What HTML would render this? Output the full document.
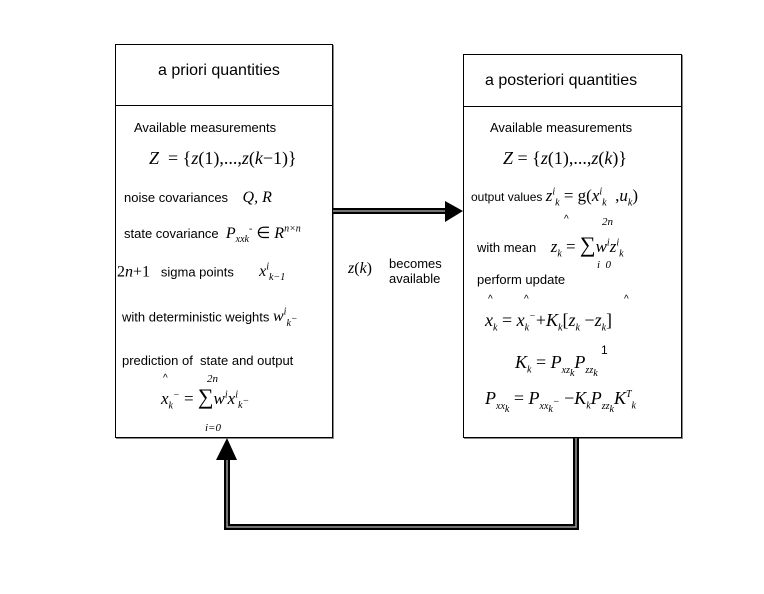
<!DOCTYPE html>
<html><head><meta charset="utf-8"><style>
body{margin:0;background:#fff;width:764px;height:594px;position:relative;overflow:hidden;font-family:"Liberation Sans",sans-serif;color:#000}
.t{position:absolute;white-space:nowrap;font-size:13px}
.m{font-family:"Liberation Serif",serif;font-style:italic;font-size:16px}
.r{font-style:normal}
sub,sup{font-size:10px}
</style></head><body>
<svg width="764" height="594" style="position:absolute;left:0;top:0">
<rect x="115.5" y="44.5" width="217" height="393" fill="none" stroke="#000"/>
<line x1="116" y1="438.5" x2="334" y2="438.5" stroke="#888"/><line x1="333.5" y1="45" x2="333.5" y2="439" stroke="#888"/>
<line x1="115" y1="105.5" x2="332" y2="105.5" stroke="#000"/>
<rect x="463.5" y="54.5" width="218" height="383" fill="none" stroke="#000"/>
<line x1="464" y1="438.5" x2="683" y2="438.5" stroke="#888"/><line x1="682.5" y1="55" x2="682.5" y2="439" stroke="#888"/>
<line x1="463" y1="106.5" x2="682" y2="106.5" stroke="#000"/>
<!-- right arrow -->
<line x1="333" y1="211" x2="446" y2="211" stroke="#000" stroke-width="6"/>
<line x1="333" y1="211" x2="446" y2="211" stroke="#999" stroke-width="1.5"/>
<polygon points="445,201 463,211 445,222" fill="#000"/>
<!-- return -->
<polyline points="576,438 576,527 227,527 227,458" fill="none" stroke="#000" stroke-width="6"/>
<polyline points="576,438 576,527 227,527 227,458" fill="none" stroke="#999" stroke-width="1.5"/>
<polygon points="216,460 227,438 237,460" fill="#000"/>
</svg>
<div class="t" style="left:158px;top:62px;font-size:16px">a priori quantities</div>
<div class="t" style="left:134px;top:120px">Available measurements</div>
<div class="t m" style="left:149px;top:148px;font-size:18px">Z <span class="r">&nbsp;= {</span>z<span class="r">(1),...,</span>z<span class="r">(</span>k<span class="r">−1)}</span></div>
<div class="t" style="left:124px;top:189px">noise covariances &nbsp;&nbsp;&nbsp;<span class="m">Q, R</span></div>
<div class="t" style="left:124px;top:223px">state covariance &nbsp;<span class="m">P<sub>xxk</sub><sup>-</sup> <span class="r">∈</span> R<sup>n×n</sup></span></div>
<div class="t" style="left:117px;top:262px"><span class="m r" style="font-size:16px">2<i>n</i>+1</span> &nbsp;&nbsp;sigma points &nbsp;&nbsp;&nbsp;&nbsp;&nbsp;&nbsp;<span class="m">x<sup>i</sup><sub>k−1</sub></span></div>
<div class="t" style="left:122px;top:307px">with deterministic weights <span class="m">w<sup>i</sup><sub>k<sup>−</sup></sub></span></div>
<div class="t" style="left:122px;top:353px">prediction of &nbsp;state and output</div>
<div class="t m" style="left:161px;top:384px;font-size:17px">x<sub>k</sub><sup>−</sup> <span class="r">=</span> <span class="r" style="font-size:22px">∑</span>w<sup>i</sup>x<sup>i</sup><sub>k<sup>−</sup></sub></div>
<div class="t m" style="left:207px;top:373px;font-size:11px">2n</div>
<div class="t m" style="left:205px;top:422px;font-size:11px">i=0</div>
<div class="t" style="left:163px;top:373px;font-size:10px">^</div>

<div class="t" style="left:485px;top:72px;font-size:16px">a posteriori quantities</div>
<div class="t" style="left:490px;top:120px">Available measurements</div>
<div class="t m" style="left:503px;top:148px;font-size:18px">Z <span class="r">= {</span>z<span class="r">(1),...,</span>z<span class="r">(</span>k<span class="r">)}</span></div>
<div class="t" style="left:471px;top:186px;font-size:12px">output values <span class="m" style="font-size:17px">z<sup>i</sup><sub>k</sub> <span class="r">= g(</span>x<sup>i</sup><sub>k</sub> &nbsp;<span class="r">,</span>u<sub>k</sub><span class="r">)</span></span></div>
<div class="t" style="left:477px;top:232px">with mean &nbsp;&nbsp;&nbsp;<span class="m" style="font-size:17px">z<sub>k</sub> <span class="r">=</span> <span class="r" style="font-size:22px">∑</span>w<sup>i</sup>z<sup>i</sup><sub>k</sub></span></div>
<div class="t m" style="left:602px;top:216px;font-size:11px">2n</div>
<div class="t m" style="left:597px;top:259px;font-size:11px">i &nbsp;0</div>
<div class="t" style="left:564px;top:214px;font-size:10px">^</div>
<div class="t" style="left:477px;top:272px">perform update</div>
<div class="t" style="left:488px;top:294px;font-size:10px">^</div>
<div class="t" style="left:524px;top:294px;font-size:10px">^</div>
<div class="t" style="left:624px;top:294px;font-size:10px">^</div>
<div class="t m" style="left:485px;top:310px;font-size:18px">x<sub>k</sub> <span class="r">=</span> x<sub>k</sub><sup>−</sup><span class="r">+</span>K<sub>k</sub><span class="r">[</span>z<sub>k</sub> <span class="r">−</span>z<sub>k</sub><span class="r">]</span></div>
<div class="t m" style="left:515px;top:352px;font-size:18px">K<sub>k</sub> <span class="r">=</span> P<sub>xz<sub>k</sub></sub>P<sub>zz<sub>k</sub></sub></div>
<div class="t" style="left:601px;top:343px;font-size:12px">1</div>
<div class="t m" style="left:485px;top:388px;font-size:18px">P<sub>xx<sub>k</sub></sub> <span class="r">=</span> P<sub>xx<sub>k</sub><sup>−</sup></sub> <span class="r">−</span>K<sub>k</sub>P<sub>zz<sub>k</sub></sub>K<sup>T</sup><sub>k</sub></div>

<div class="t m" style="left:348px;top:260px">z<span class="r">(</span>k<span class="r">)</span></div>
<div class="t" style="left:389px;top:256px">becomes<br>available</div>
</body></html>
